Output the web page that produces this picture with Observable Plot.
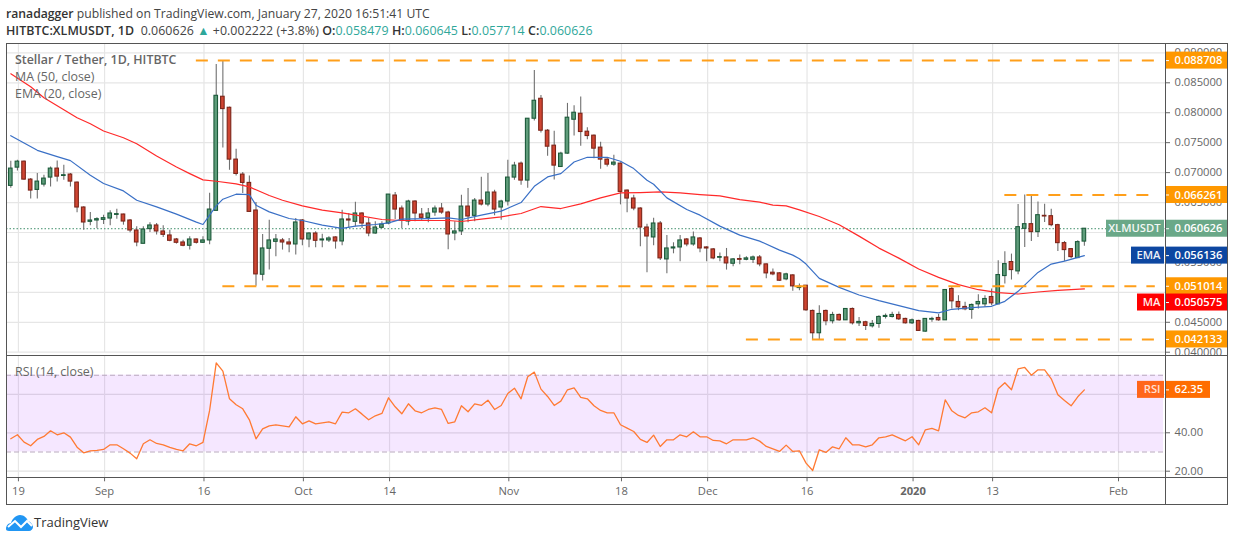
<!DOCTYPE html>
<html><head><meta charset="utf-8">
<script src="https://cdn.jsdelivr.net/npm/d3@7"></script>
<script src="https://cdn.jsdelivr.net/npm/@observablehq/plot@0.6"></script>
<style>
html,body{margin:0;padding:0;background:#fff}
#page{position:relative;width:1234px;height:541px;overflow:hidden;font-family:"Open Sans",sans-serif;color:#555}
.abs{position:absolute;white-space:nowrap}
.pane{position:absolute;left:0;overflow:hidden}
.pane svg{display:block}
.line{position:absolute;background:#555}
b{font-weight:600}
.teal{color:#2fa79a}
</style></head><body>
<div id="page"></div>
<script>
// Prices in thousandths of USDT, one per day from 18 Aug 2019
const opens=[67.78,70.83,71.83,68.83,67.11,68.00,69.17,70.67,69.44,69.67,68.33,64.17,61.78,62.00,62.11,62.33,62.94,63.00,62.00,60.33,58.11,60.56,61.17,60.17,59.50,58.83,58.33,57.78,58.83,58.28,58.67,63.61,82.67,80.83,72.17,69.67,68.28,63.67,52.94,57.28,58.44,58.67,58.33,58.00,62.00,58.83,59.83,58.67,58.67,59.17,58.50,62.17,61.78,63.17,61.50,59.83,60.78,61.50,66.17,64.00,61.83,65.17,63.00,62.44,63.33,64.00,63.33,59.83,60.17,64.33,62.78,65.33,64.67,66.67,64.17,65.17,69.17,71.50,68.67,79.00,82.33,77.00,74.50,70.94,73.17,78.83,79.83,76.83,76.17,74.17,72.17,71.33,71.50,67.00,65.67,64.00,60.83,59.17,61.50,55.50,57.33,57.50,58.83,58.00,59.00,57.50,57.17,55.78,55.83,54.78,55.56,55.44,55.44,55.83,54.67,53.28,53.17,52.17,52.83,50.72,51.11,46.89,43.17,46.89,45.17,46.22,45.33,47.22,44.83,45.00,44.33,44.72,45.89,45.89,46.22,45.56,44.83,45.22,43.44,45.44,45.72,45.33,50.56,48.39,47.56,47.06,48.00,48.00,49.22,48.00,52.72,55.06,53.50,60.61,61.39,60.06,62.78,62.72,61.22,58.22,57.22,55.72,58.479];
const highs=[71.89,72.06,71.94,69.00,69.83,69.56,70.94,71.94,71.22,69.83,68.44,64.28,63.33,62.44,62.89,63.61,63.89,63.06,62.17,60.94,60.94,61.61,61.50,61.11,60.39,59.00,58.72,59.28,58.89,59.28,66.56,88.06,88.71,80.94,73.89,70.00,69.44,65.00,59.67,62.06,59.67,59.00,59.00,62.33,62.17,59.94,60.11,59.72,59.28,59.28,63.72,63.17,65.06,63.28,62.33,61.78,61.78,66.33,66.67,64.44,65.39,65.28,64.00,64.00,64.44,64.83,63.56,61.78,66.22,67.33,65.67,69.22,69.83,67.06,65.39,72.06,71.72,71.78,79.00,87.06,82.89,77.22,76.89,73.39,81.56,81.17,82.61,77.50,76.28,75.06,72.33,72.89,71.61,67.11,66.22,64.11,61.39,62.39,61.83,59.50,58.28,59.50,59.00,60.06,59.17,57.61,57.33,56.56,57.33,55.67,56.22,55.94,56.06,56.17,54.72,53.89,53.28,53.17,52.94,51.39,51.11,47.06,47.78,47.06,46.67,46.39,47.22,47.39,45.78,45.17,45.28,46.11,46.39,46.67,46.72,45.67,45.56,45.33,45.56,45.83,46.28,50.39,50.94,49.44,48.33,48.06,49.61,49.44,50.56,55.28,56.78,56.39,64.67,66.26,66.26,65.11,64.72,63.89,61.39,58.50,57.33,58.61,60.645];
const lows=[67.39,70.28,68.72,65.61,65.61,67.61,67.61,68.44,68.72,67.61,63.28,60.39,61.11,60.61,61.33,61.11,62.22,61.22,59.94,57.61,58.11,60.00,59.56,59.17,58.44,58.06,57.61,57.06,58.06,58.17,57.94,63.61,74.11,70.39,69.44,66.50,63.33,51.01,51.89,53.72,55.94,57.06,56.61,56.22,57.78,57.44,57.44,57.44,58.33,57.22,57.78,60.67,60.94,60.67,59.28,59.72,60.61,61.28,62.17,60.67,61.11,61.78,62.06,61.61,62.72,63.06,57.11,58.61,59.50,61.61,61.78,64.44,64.28,62.78,62.06,64.44,68.72,67.89,67.39,78.61,76.61,72.72,68.78,70.94,73.06,76.11,74.39,75.50,72.33,70.56,70.94,71.06,64.61,63.28,63.61,57.61,53.28,57.78,55.33,53.11,56.44,55.11,57.61,57.72,56.61,55.11,55.44,55.11,53.72,54.28,54.61,55.28,54.83,54.28,52.28,52.78,51.83,51.94,50.17,50.28,46.83,42.13,42.13,44.44,44.72,45.17,45.28,44.56,44.28,43.61,44.06,44.00,45.56,45.72,45.28,44.72,44.61,43.44,43.33,45.00,45.17,45.28,47.22,46.94,46.94,45.50,47.22,47.50,47.78,48.00,51.39,52.06,52.94,57.50,58.50,59.17,61.67,60.94,56.83,55.17,55.61,55.67,57.714];
const closes=[70.67,71.83,68.83,67.00,68.50,69.00,70.67,69.33,69.56,68.50,64.17,61.67,62.00,62.22,62.39,63.17,63.06,61.83,60.33,58.33,60.50,61.17,60.17,59.61,58.61,58.28,57.78,58.83,58.28,58.67,63.83,82.83,80.61,72.17,69.78,68.28,63.44,53.00,57.33,58.67,58.83,58.33,58.00,61.67,58.83,59.83,58.61,58.83,59.00,58.50,62.17,62.00,63.17,61.50,59.83,60.83,61.33,66.33,63.83,62.00,65.17,63.17,62.44,63.17,64.00,63.33,59.67,60.17,64.33,62.67,65.33,64.67,66.67,63.83,65.17,69.17,71.17,68.67,79.00,82.00,77.00,74.33,71.17,73.17,79.17,80.00,76.78,76.11,74.00,72.17,71.33,71.67,66.78,65.67,64.00,60.83,59.33,61.50,55.67,57.33,57.50,58.67,58.00,59.17,57.33,57.33,55.67,55.89,54.83,55.50,55.44,55.67,55.83,54.67,53.17,53.00,51.94,53.00,51.00,50.94,47.00,43.17,46.39,45.17,46.22,45.33,47.22,44.83,45.06,44.39,44.72,45.89,46.06,46.22,45.50,44.83,45.33,43.56,45.56,45.56,45.33,50.39,48.50,47.50,47.17,47.89,48.39,48.89,48.17,52.89,54.72,53.72,60.89,61.39,60.06,62.89,62.67,61.22,58.22,57.06,55.89,58.39,60.626];

const maDays=[0,3,5,8,10,12,14,17,19,22,25,27,29,31,34,36,39,41,44,47,50,53,56,59,63,66,68,71,74,77,80,83,86,89,92,95,98,101,104,107,110,113,115,117,119,122,125,128,131,134,137,140,143,146,149,152,155,158,162];
const maValues=[86.50,84.33,82.50,80.50,79.17,78.17,76.95,75.83,74.83,72.78,70.94,69.83,68.78,68.56,68.11,67.61,66.17,65.39,64.44,63.72,63.28,62.72,62.17,62.00,62.00,62.00,61.83,62.22,62.61,63.17,64.33,64.00,64.78,65.78,66.61,66.67,66.78,66.61,66.33,66.11,65.50,65.06,64.56,64.44,63.78,62.67,61.28,59.39,57.39,55.72,53.89,52.50,51.28,50.44,49.94,49.72,50.06,50.33,50.575];
const emaDays=[0,2,4,7,9,12,14,17,19,22,25,28,29,30,31,32,34,36,37,39,42,44,47,50,52,55,57,59,63,66,68,71,74,77,79,81,83,85,87,90,92,94,96,97,99,102,104,107,110,113,116,118,119,120,122,125,128,131,134,137,140,142,145,148,150,152,155,157,159,162];
const emaValues=[76.17,74.94,73.72,72.67,72.00,69.56,68.17,66.94,65.39,64.28,63.06,61.72,61.33,62.89,64.44,65.56,66.39,66.33,64.56,63.44,62.33,62.00,61.22,60.67,61.06,61.33,61.61,62.22,62.33,62.44,62.17,62.89,63.56,65.00,67.72,69.28,69.83,71.78,72.56,72.56,71.89,70.67,68.72,68.06,65.78,63.83,62.89,61.06,59.56,58.56,57.06,56.22,55.61,54.72,52.33,50.83,49.56,48.61,47.78,46.94,46.56,47.17,47.44,47.67,48.50,50.17,53.33,54.72,55.22,56.136];
const rsiValues=[36.88,38.96,35.14,33.23,36.53,38.09,41.04,38.96,40.00,37.74,32.53,29.58,30.63,30.80,31.32,33.75,33.75,31.67,29.41,26.46,34.27,36.35,34.44,33.75,32.36,31.32,30.63,34.27,33.23,34.97,51.63,76.46,72.12,57.71,54.58,52.50,46.77,36.88,42.08,43.65,44.17,43.65,43.13,48.33,44.69,46.25,44.69,45.21,45.73,44.69,50.76,50.42,52.50,49.72,46.77,48.85,50.07,58.23,53.54,49.90,55.10,51.46,50.42,52.15,53.02,52.15,44.86,45.73,54.06,50.94,55.10,54.24,57.01,52.15,54.24,60.49,63.26,57.71,69.17,71.60,62.74,58.92,54.24,56.49,62.40,63.44,58.40,57.71,54.06,51.63,50.42,50.42,44.17,42.43,40.69,36.53,34.97,38.78,32.88,36.35,36.35,38.96,37.92,40.52,37.92,37.92,36.01,35.83,34.27,36.35,36.35,36.35,37.40,35.66,32.88,31.67,30.28,33.58,30.28,30.63,24.20,20.38,31.15,29.76,32.71,31.67,37.40,33.75,33.75,32.71,33.75,37.40,37.92,38.96,37.40,35.83,37.92,33.75,41.56,42.26,41.04,57.19,51.46,49.03,47.81,50.42,50.94,53.02,50.42,62.92,66.04,62.40,73.33,74.03,70.03,72.81,72.81,68.13,59.79,56.84,54.06,58.75,62.35];

const priceTicks=[0.04,0.045,0.05,0.055,0.06,0.065,0.07,0.075,0.08,0.085,0.09];
const priceLabelTicks=[0.04,0.045,0.055,0.065,0.07,0.075,0.08,0.085,0.09];
const rsiTicks=[20,40,60];
const rsiLabelTicks=[20,40];
const tickDays=[1,14,29,44,57,75,92,105,120,136,148,167];
const tickLabels=["19","Sep","16","Oct","14","Nov","18","Dec","16","2020","13","Feb"];
const levelValues=[0.088708,0.066261,0.051014,0.042133];
const levelStart=[28,150,32,111];
const lastPrice=0.060626;

const tagLabels=["0.088708","0.066261","0.060626","0.056136","0.051014","0.050575","0.042133"];
const tagCentres=[0.088708,0.066261,0.060626,0.056136,0.051014,0.0483,0.042133];
const tagColours=["#ff9800","#ff9800","#6aa888","#0d47a1","#ff9800","#ff0000","#ff9800"];
const nameLabels=["XLMUSDT","EMA","MA"];
const nameCentres=[0.060626,0.056136,0.0483];
const nameColours=["#6aa888","#0d47a1","#ff0000"];
const nameLeft=[1106,1131,1137];

const DAY0=Date.UTC(2019,7,18), DAYPX=6.627, PX0=10.3;
const dayAt=i=>new Date(DAY0+i*864e5);
const colX=px=>dayAt((px-PX0)/DAYPX);
const xDomain=[colX(6),colX(1165)];
const fam='"Open Sans",sans-serif';

const candles=opens.map((o,i)=>({i,date:dayAt(i),o:o/1000,h:highs[i]/1000,l:lows[i]/1000,c:closes[i]/1000}));
const ups=candles.filter(d=>d.c>=d.o), downs=candles.filter(d=>d.c<d.o);
const body=(fill,stroke)=>({x1:d=>dayAt(d.i-.27),x2:d=>dayAt(d.i+.27),y1:"o",y2:"c",fill,stroke,strokeWidth:1.1});

// price pane
const pxPerPrice=5987, tagH=8.5/pxPerPrice;
const tagRows=tagLabels.map((t,k)=>({t,c:tagCentres[k],col:tagColours[k]}));
const nameRows=nameLabels.map((t,k)=>({t,c:nameCentres[k],col:nameColours[k],left:nameLeft[k]}));
const levels=levelValues.map((v,k)=>({v,s:dayAt(levelStart[k])}));
const priceMarks=[
  Plot.ruleY(priceTicks,{stroke:"#e6e6e6",strokeWidth:1.2}),
  Plot.ruleX(tickDays.map(dayAt),{x:d=>d,dx:1,stroke:"#e6e6e6",strokeWidth:1.2}),
  Plot.ruleY([lastPrice],{stroke:"#3f8f6b",strokeWidth:1,strokeDasharray:"1.5 2"}),
  Plot.ruleX(candles,{x:"date",y1:"l",y2:"h",stroke:"#707070",strokeWidth:1.1}),
  Plot.rect(ups,body("#5f9d7b","#1c5a3a")),
  Plot.rect(downs,body("#cf4532","#7c2519")),
  Plot.line(maDays.map((d,k)=>({d:dayAt(d),v:maValues[k]/1000})),{x:"d",y:"v",stroke:"#ff2a2a",strokeWidth:1.2}),
  Plot.line(emaDays.map((d,k)=>({d:dayAt(d),v:emaValues[k]/1000})),{x:"d",y:"v",stroke:"#3a70c6",strokeWidth:1.2}),
  Plot.ruleY(levels,{y:"v",x1:"s",x2:()=>dayAt(172.7),stroke:"#ff9f1a",strokeWidth:2,strokeDasharray:"12 10"}),
  Plot.axisY(priceLabelTicks,{anchor:"right",tickSize:4,tickPadding:5,tickFormat:d3.format(".6f"),color:"#666",fontSize:11.2,label:null}),
  Plot.rect(nameRows,{x1:d=>colX(d.left),x2:()=>colX(1164),y1:d=>d.c-tagH,y2:d=>d.c+tagH,fill:d=>d.col}),
  Plot.text(nameRows,{x:()=>colX(1160),y:"c",text:"t",fill:"#fff",textAnchor:"end",fontSize:11.2,fontWeight:600,opacity:.92}),
  Plot.rect(tagRows,{x1:()=>colX(1165),x2:()=>colX(1227),y1:d=>d.c-tagH,y2:d=>d.c+tagH,fill:d=>d.col}),
  Plot.ruleY(tagRows,{y:"c",x1:()=>colX(1165),x2:()=>colX(1169),stroke:"#fff"}),
  Plot.text(tagRows,{x:()=>colX(1174),y:"c",text:"t",fill:"#fff",textAnchor:"start",fontSize:11.2,fontWeight:600})
];
const priceChart=Plot.plot({width:1234,height:355,marginLeft:6,marginRight:69,marginTop:44,marginBottom:3,
  style:{background:"transparent",fontFamily:fam,overflow:"hidden"},
  x:{type:"utc",domain:xDomain,axis:null},
  y:{type:"linear",domain:[0.039953,0.091397],axis:null},
  color:{type:"identity"},
  marks:priceMarks});

// RSI pane
const rsiRows=rsiValues.map((v,i)=>({d:dayAt(i),v}));
const rsiTagH=8.5/1.92;
const tickRows=tickDays.map((d,k)=>({d:dayAt(d),t:tickLabels[k]}));
const labelOf=new Map(tickRows.map(r=>[+r.d,r.t]));
const plain=tickRows.filter(r=>r.t!=="2020").map(r=>r.d), bold=tickRows.filter(r=>r.t==="2020").map(r=>r.d);
const rsiChart=Plot.plot({width:1234,height:149,marginLeft:6,marginRight:69,marginTop:0.3,marginBottom:26.7,
  style:{background:"transparent",fontFamily:fam,overflow:"hidden"},
  x:{type:"utc",domain:xDomain,axis:null},
  y:{type:"linear",domain:[16.56,80.1],axis:null},
  marks:[
    Plot.ruleY(rsiTicks,{stroke:"#e2e2e2",strokeWidth:1.2}),
    Plot.ruleX(tickDays.map(dayAt),{x:d=>d,dx:1,stroke:"#e6e6e6",strokeWidth:1.2}),
    Plot.rect([0],{x1:()=>colX(6),x2:()=>colX(1163),y1:()=>30,y2:()=>70,fill:"#9915ff",fillOpacity:.1}),
    Plot.ruleY([30,70],{x1:()=>colX(6),x2:()=>colX(1163),stroke:"#b9a9bf",strokeWidth:1.1,strokeDasharray:"5 3"}),
    Plot.line(rsiRows,{x:"d",y:"v",stroke:"#ff7a33",strokeWidth:1.3}),
    Plot.axisY(rsiLabelTicks,{anchor:"right",tickSize:4,tickPadding:5,tickFormat:d3.format(".2f"),color:"#666",fontSize:11.2,label:null}),
    Plot.axisX(plain,{anchor:"bottom",tickSize:4,tickPadding:5,dx:1,tickFormat:d=>labelOf.get(+d),color:"#666",fontSize:11.2,label:null}),
    Plot.axisX(bold,{anchor:"bottom",tickSize:4,tickPadding:5,dx:1,tickFormat:d=>labelOf.get(+d),color:"#666",fontSize:11.2,fontWeight:700,label:null}),
    Plot.rect([62.35],{x1:()=>colX(1137),x2:()=>colX(1164),y1:d=>d-rsiTagH,y2:d=>d+rsiTagH,fill:"#ff661a"}),
    Plot.text(["RSI"],{x:()=>colX(1160),y:()=>62.35,text:d=>d,fill:"#fff",textAnchor:"end",fontSize:11.2,fontWeight:600,opacity:.8}),
    Plot.rect([62.35],{x1:()=>colX(1165),x2:()=>colX(1210),y1:d=>d-rsiTagH,y2:d=>d+rsiTagH,fill:"#ff6d00"}),
    Plot.ruleY([62.35],{x1:()=>colX(1165),x2:()=>colX(1169),stroke:"#fff"}),
    Plot.text(["62.35"],{x:()=>colX(1174),y:()=>62.35,text:d=>d,fill:"#fff",textAnchor:"start",fontSize:11.2,fontWeight:600})
  ]});

const page=document.getElementById("page");
function addPane(svg,top,h){const p=document.createElement("div");p.className="pane";p.style.top=top+"px";p.style.height=h+"px";p.style.width="1234px";p.appendChild(svg);page.appendChild(p);}
addPane(priceChart,0,355);
addPane(rsiChart,355,149);
function addText(left,top,html,css){const e=document.createElement("div");e.className="abs";e.style.left=left+"px";e.style.top=top+"px";e.style.cssText+=css||"";e.innerHTML=html;page.appendChild(e);}
function addLine(l,t,w,h){const e=document.createElement("div");e.className="line";e.style.cssText=`left:${l}px;top:${t}px;width:${w}px;height:${h}px`;page.appendChild(e);}
addLine(6,43,1221,1);addLine(6,354.6,1221,1);addLine(6,477,1221,1);addLine(6,504,1221,1);
addLine(6,43,1,461);addLine(1165,43,1,461);addLine(1227,43,1,462);

addText(6,5,'<b style="color:#333">ranadagger</b> published on TradingView.com, January 27, 2020 16:51:41 UTC','font-size:12.2px;color:#444;line-height:17px');
addText(6,22,'<b style="color:#333">HITBTC:XLMUSDT, 1D</b>&nbsp; 0.060626 <span class="teal">▲</span> +0.002222 (+3.8%) <b style="color:#333">O:</b><span class="teal">0.058479</span> <b style="color:#333">H:</b><span class="teal">0.060645</span> <b style="color:#333">L:</b><span class="teal">0.057714</span> <b style="color:#333">C:</b><span class="teal">0.060626</span>','font-size:12.4px;letter-spacing:.05px;color:#444;line-height:17px');
addText(15,52,'<b>Stellar / Tether, 1D, HITBTC</b>','font-size:12.4px;color:#666;line-height:16px');
addText(15,69,'MA (50, close)','font-size:12.4px;color:#666;line-height:16px');
addText(15,86,'EMA (20, close)','font-size:12.4px;color:#666;line-height:16px');
addText(15,364,'RSI (14, close)','font-size:12.4px;color:#666;line-height:16px');
addText(34,514,'TradingView','font-size:13px;color:#333;line-height:17px');
addText(6,514,'<svg width="27" height="17" viewBox="0 0 27 17"><path d="M0 15 C0 11 3 9 5 9 C6 5 10 1 14 1 C18 1 21 4 22 7 C25 8 27 11 27 13 C27 15 25 17 23 17 H3 C1 17 0 16 0 15Z" fill="#2196f3"/><path d="M2 13 L9 7 L15 13 L21 7 L26 12" fill="none" stroke="#fff" stroke-width="2"/></svg>','line-height:0');
</script>
</body></html>
